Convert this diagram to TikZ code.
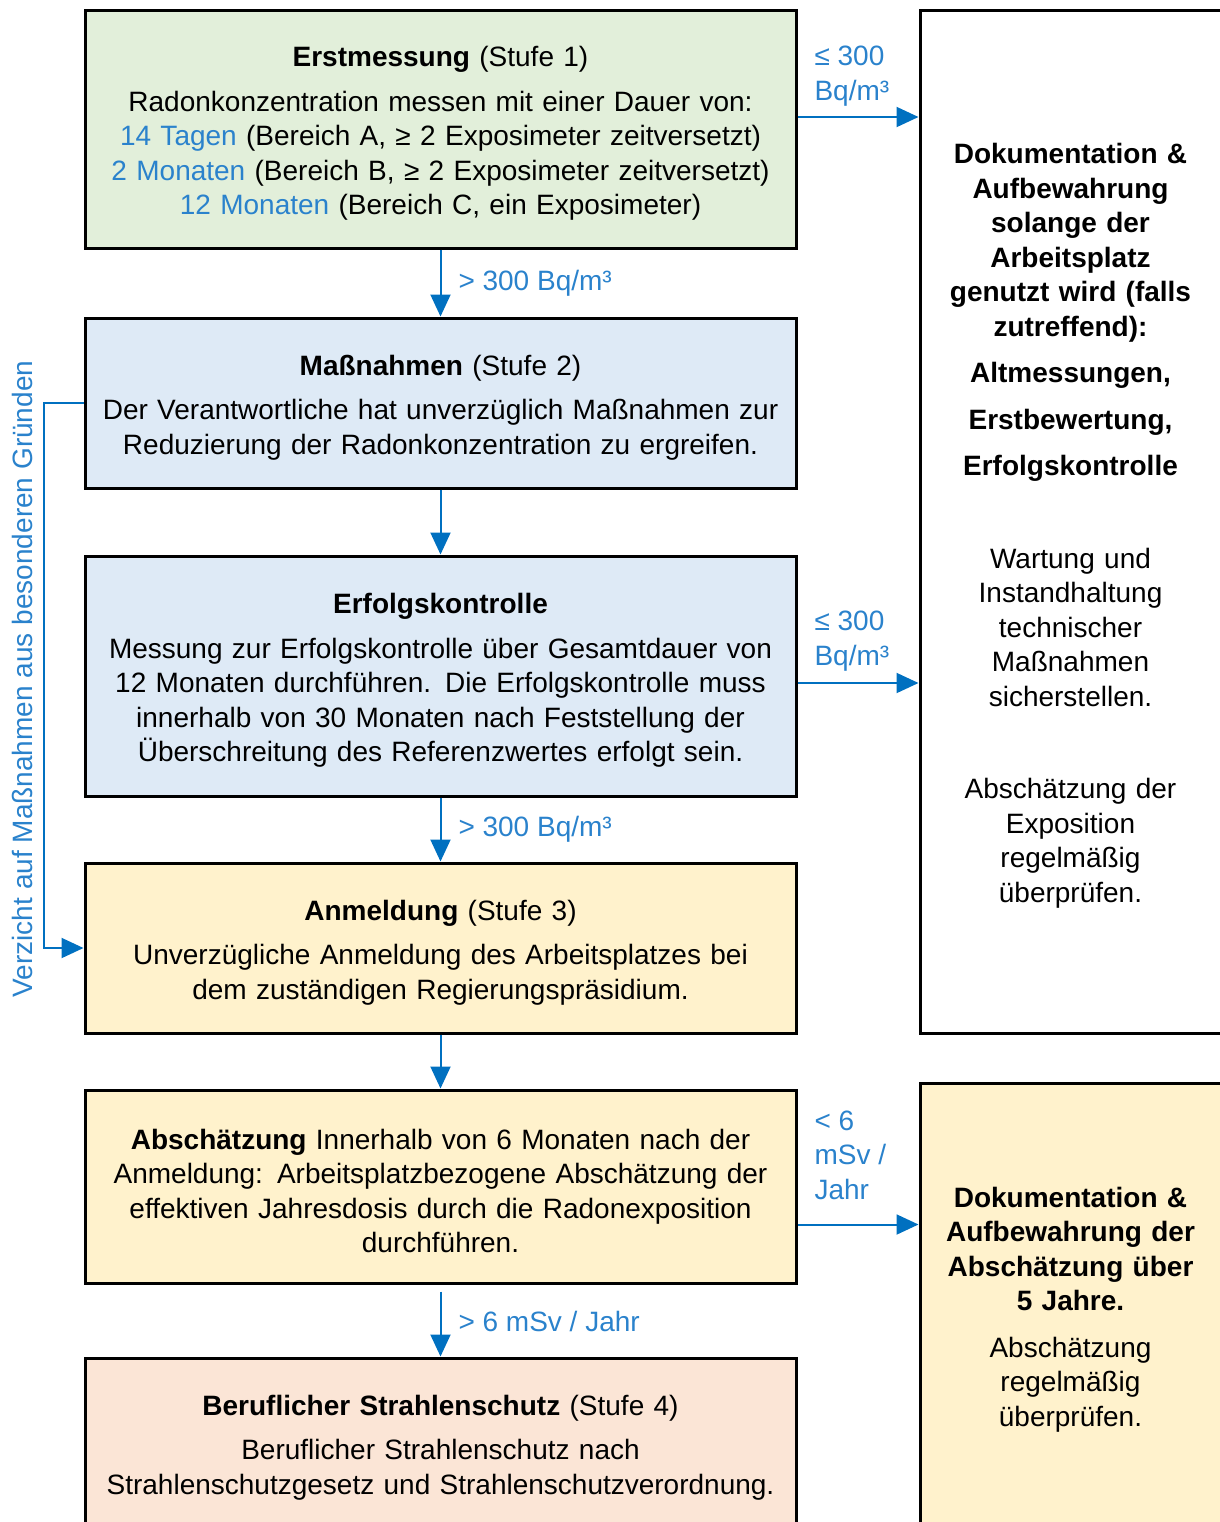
\documentclass[tikz,border=0pt]{standalone}
\usepackage{fontspec}
\setmainfont{Liberation Sans}
\usetikzlibrary{arrows.meta}
\definecolor{pfeilblau}{HTML}{0070C0}
\definecolor{textblau}{HTML}{2A82CC}
\definecolor{gruen}{HTML}{E2EFDA}
\definecolor{hellblau}{HTML}{DEEAF6}
\definecolor{gelb}{HTML}{FFF2CC}
\definecolor{rosa}{HTML}{FBE5D6}

\begin{document}
\begin{tikzpicture}[x=0.5pt,y=-0.5pt,
    font=\fontsize{14pt}{17.25pt}\selectfont,
    stufe/.style={draw=black,line width=1.5pt,minimum width=355.5pt,inner sep=0pt,text width=350pt,align=center,
      execute at begin node={\rule{0pt}{14.5pt}}},
    doku/.style={draw=black,line width=1.5pt,minimum width=150.5pt,inner sep=0pt,text width=148pt,align=center,
      execute at begin node={\rule{0pt}{14.5pt}}},
    pfeil/.style={draw=pfeilblau,line width=1pt,-{Triangle[length=11pt,width=10pt]}},
    hinweis/.style={text=textblau,align=left,inner sep=0pt}]
      \useasboundingbox (0,0) rectangle (1220,1522);
      \clip (0,0) rectangle (1220,1522);
      \node[stufe,fill=gruen,minimum height=119pt] (erst) at (440.5,129) {\textbf{Erstmessung} (Stufe 1)\\[5pt]
        Radonkonzentration  messen mit einer Dauer von:\\
        \textcolor{textblau}{14 Tagen} (Bereich A, ≥ 2 Exposimeter zeitversetzt)\\
        \textcolor{textblau}{2 Monaten} (Bereich B, ≥ 2 Exposimeter zeitversetzt)\\
        \textcolor{textblau}{12 Monaten} (Bereich C, ein Exposimeter)};
      \node[stufe,fill=hellblau,minimum height=85pt] (mass) at (440.5,403) {\textbf{Maßnahmen} (Stufe 2)\\[5pt]
        Der Verantwortliche hat unverzüglich Maßnahmen zur\\
        Reduzierung der Radonkonzentration zu ergreifen.};
      \node[stufe,fill=hellblau,minimum height=120pt] (erfolg) at (440.5,676) {\textbf{Erfolgskontrolle}\\[5pt]
        Messung zur Erfolgskontrolle über Gesamtdauer von\\
        12 Monaten durchführen. Die Erfolgskontrolle muss\\
        innerhalb von 30 Monaten nach Feststellung der\\
        Überschreitung des Referenzwertes erfolgt sein.};
      \node[stufe,fill=gelb,minimum height=85pt] (anm) at (440.5,948) {\textbf{Anmeldung} (Stufe 3)\\[5pt]
        Unverzügliche Anmeldung des Arbeitsplatzes bei\\
        dem zuständigen Regierungspräsidium.};
      \node[stufe,fill=gelb,minimum height=96.5pt] (absch) at (440.5,1186.5) {\textbf{Abschätzung} Innerhalb von 6 Monaten nach der\\
        Anmeldung: Arbeitsplatzbezogene Abschätzung der\\
        effektiven Jahresdosis durch die Radonexposition\\
        durchführen.};
      \node[stufe,fill=rosa,minimum height=85pt] (beruf) at (440.5,1443) {\textbf{Beruflicher Strahlenschutz} (Stufe 4)\\[5pt]
        Beruflicher Strahlenschutz nach\\
        Strahlenschutzgesetz und Strahlenschutzverordnung.};
      \node[doku,fill=white,minimum height=511.5pt] (dokeins) at (1070.5,521.5) {\textbf{Dokumentation \&}\\
        \textbf{Aufbewahrung}\\ \textbf{solange der}\\ \textbf{Arbeitsplatz}\\
        \textbf{genutzt wird (falls}\\ \textbf{zutreffend):}\\[6pt]
        \textbf{Altmessungen,}\\[6pt] \textbf{Erstbewertung,}\\[6pt] \textbf{Erfolgskontrolle}\\[29pt]
        Wartung und\\ Instandhaltung\\ technischer\\ Maßnahmen\\ sicherstellen.\\[29pt]
        Abschätzung der\\ Exposition\\ regelmäßig\\ überprüfen.};
      \node[doku,fill=gelb,minimum height=222pt] (dokzwei) at (1070.5,1305) {\textbf{Dokumentation \&}\\
        \textbf{Aufbewahrung der}\\ \textbf{Abschätzung über}\\ \textbf{5 Jahre.}\\[6pt]
        Abschätzung\\ regelmäßig\\ überprüfen.};
      \node[hinweis,rotate=90] (verzicht) at (22,679) {Verzicht auf Maßnahmen aus besonderen Gründen};
      \draw[pfeil] (erst) -- (mass) node[midway,right,hinweis,xshift=8.5pt] {> 300 Bq/m³};
      \draw[pfeil] (mass) -- (erfolg);
      \draw[pfeil] (erfolg) -- (anm) node[midway,right,hinweis,xshift=8.5pt] {> 300 Bq/m³};
      \draw[pfeil] (anm) -- (absch);
      \draw[pfeil] ([yshift=-3.5pt]absch.south) -- (beruf) node[midway,right,hinweis,xshift=8.5pt,yshift=1.5pt] {> 6 mSv / Jahr};
      \draw[pfeil] ([yshift=6pt]erst.east) -- ([yshift=6pt]erst.east -| dokeins.west)
        node[pos=0,anchor=south west,hinweis,xshift=8pt,yshift=5pt] {≤ 300\\Bq/m³};
      \draw[pfeil] ([yshift=-3.5pt]erfolg.east) -- ([yshift=-3.5pt]erfolg.east -| dokeins.west)
        node[pos=0,anchor=south west,hinweis,xshift=8pt,yshift=5.5pt] {≤ 300\\Bq/m³};
      \draw[pfeil] ([yshift=-19pt]absch.east) -- ([yshift=-19pt]absch.east -| dokzwei.west)
        node[pos=0,anchor=south west,hinweis,xshift=8pt,yshift=12pt] {< 6\\mSv /\\Jahr};
      \draw[pfeil] (mass.west) -- ++(-40,0) |- (anm.west);
    \end{tikzpicture}
\end{document}
